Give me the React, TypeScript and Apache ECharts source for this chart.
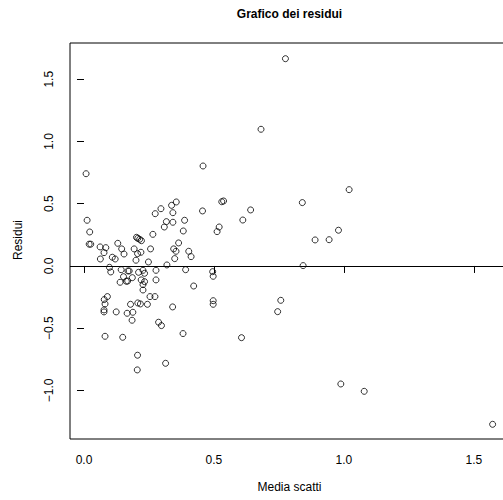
import React, { useEffect, useRef } from "react";
import * as echarts from "echarts";

const mediaScatti: number[] = [
  0.775, 0.681, 0.458, 0.456, 0.530, 0.537, 0.520, 0.512, 0.611, 0.641,
  0.840, 0.889, 0.943, 0.979, 1.020, 0.843, 0.495, 0.497, 0.497, 0.497,
  0.757, 0.745, 0.606, 0.988, 1.078, 1.572,
  0.008, 0.012, 0.022, 0.020, 0.026, 0.062, 0.084, 0.063, 0.077, 0.109,
  0.120, 0.130, 0.145, 0.154, 0.193, 0.202, 0.207, 0.214, 0.221, 0.206,
  0.219, 0.200, 0.248, 0.256, 0.265, 0.274, 0.296, 0.309, 0.317, 0.337,
  0.355, 0.342, 0.342, 0.364, 0.345, 0.354, 0.349, 0.387, 0.382, 0.403,
  0.412, 0.319,
  0.391, 0.422, 0.098, 0.103, 0.143, 0.169, 0.174, 0.152, 0.139, 0.163,
  0.168, 0.186, 0.210, 0.227, 0.233, 0.220, 0.227, 0.233, 0.277, 0.277,
  0.227,
  0.090, 0.078, 0.081, 0.077, 0.077, 0.124, 0.179, 0.207, 0.217, 0.244,
  0.254, 0.273, 0.166, 0.188, 0.185, 0.287, 0.298, 0.341, 0.381, 0.081,
  0.149, 0.206, 0.314, 0.205,
];

const residui: number[] = [
  1.665, 1.098, 0.803, 0.442, 0.516, 0.522, 0.313, 0.276, 0.369, 0.450,
  0.509, 0.209, 0.211, 0.287, 0.613, 0.003, -0.046, -0.083, -0.279, -0.308,
  -0.276, -0.367, -0.576, -0.948, -1.007, -1.272,
  0.741, 0.367, 0.273, 0.175, 0.175, 0.153, 0.147, 0.056, 0.107, 0.070,
  0.056, 0.182, 0.137, 0.096, 0.137, 0.230, 0.222, 0.214, 0.203, 0.099,
  0.110, 0.046, 0.032, 0.137, 0.254, 0.420, 0.460, 0.313, 0.356, 0.487,
  0.514, 0.428, 0.351, 0.185, 0.137, 0.118, 0.059, 0.367, 0.281, 0.118,
  0.075, 0.008,
  -0.030, -0.161, -0.011, -0.048, -0.030, -0.040, -0.040, -0.086, -0.131, -0.123,
  -0.121, -0.094, -0.051, -0.035, -0.059, -0.112, -0.150, -0.126, -0.035, -0.112,
  -0.193,
  -0.246, -0.270, -0.305, -0.353, -0.369, -0.369, -0.308, -0.297, -0.305, -0.308,
  -0.246, -0.246, -0.380, -0.372, -0.436, -0.452, -0.479, -0.329, -0.543, -0.565,
  -0.573, -0.717, -0.782, -0.835,
];

const xTicks: number[] = [0, 0.5, 1.0, 1.5];
const yTicks: number[] = [-1.0, -0.5, 0, 0.5, 1.0, 1.5];

const titleText = "Grafico dei residui";
const xName = "Media scatti";
const yName = "Residui";

const FONT = "'Liberation Sans', Arial, Helvetica, sans-serif";

const fmt = (v: number) => v.toFixed(1).replace("-", "\u2212");

export default function App() {
  const ref = useRef<HTMLDivElement | null>(null);

  useEffect(() => {
    if (!ref.current) return;
    const chart = echarts.init(ref.current, null, { renderer: "svg" });
    const points = mediaScatti.map((x, i) => [x, residui[i]]);
    chart.setOption({
      animation: false,
      backgroundColor: "#ffffff",
      grid: {
        left: 70,
        top: 43,
        bottom: 61,
        right: 6,
        show: true,
        borderColor: "#000",
        borderWidth: 1,
        backgroundColor: "transparent",
      },
      xAxis: {
        type: "value",
        min: -0.0538,
        max: 1.635,
        axisLine: { show: false },
        splitLine: { show: false },
        axisTick: {
          show: true,
          inside: false,
          length: 7,
          customValues: xTicks,
          lineStyle: { color: "#000", width: 1 },
        },
        axisLabel: {
          show: true,
          customValues: xTicks,
          formatter: fmt,
          margin: 15,
          color: "#000",
          fontSize: 12,
          fontFamily: FONT,
        },
      },
      yAxis: {
        type: "value",
        min: -1.39,
        max: 1.791,
        axisLine: { show: false },
        splitLine: { show: false },
        axisTick: {
          show: true,
          inside: false,
          length: 7,
          customValues: yTicks,
          lineStyle: { color: "#000", width: 1 },
        },
        axisLabel: {
          show: true,
          customValues: yTicks,
          formatter: fmt,
          rotate: 90,
          margin: 15,
          color: "#000",
          fontSize: 12,
          fontFamily: FONT,
        },
      },
      graphic: [
        {
          type: "text",
          x: 289.5,
          y: 14,
          style: {
            text: titleText,
            fill: "#000",
            font: `bold 12px ${FONT}`,
            textAlign: "center",
            textVerticalAlign: "middle",
          },
        },
        {
          type: "text",
          x: 289.5,
          y: 487,
          style: {
            text: xName,
            fill: "#000",
            font: `12px ${FONT}`,
            textAlign: "center",
            textVerticalAlign: "middle",
          },
        },
        {
          type: "text",
          x: 18,
          y: 240,
          rotation: Math.PI / 2,
          style: {
            text: yName,
            fill: "#000",
            font: `12px ${FONT}`,
            textAlign: "center",
            textVerticalAlign: "middle",
          },
        },
      ],
      series: [
        {
          type: "scatter",
          data: points,
          symbol: "circle",
          symbolSize: 6,
          itemStyle: {
            color: "rgba(0,0,0,0)",
            borderColor: "#000",
            borderWidth: 1,
          },
          emphasis: { disabled: true },
          markLine: {
            silent: true,
            symbol: ["none", "none"],
            label: { show: false },
            lineStyle: { color: "#000", type: "solid", width: 1 },
            data: [{ yAxis: 0 }],
          },
        },
      ],
    });
    return () => chart.dispose();
  }, []);

  return (
    <div
      style={{
        position: "absolute",
        left: 0,
        top: 0,
        width: 503,
        height: 500,
        overflow: "hidden",
        background: "#fff",
      }}
    >
      <div ref={ref} style={{ width: 515, height: 500 }} />
    </div>
  );
}
